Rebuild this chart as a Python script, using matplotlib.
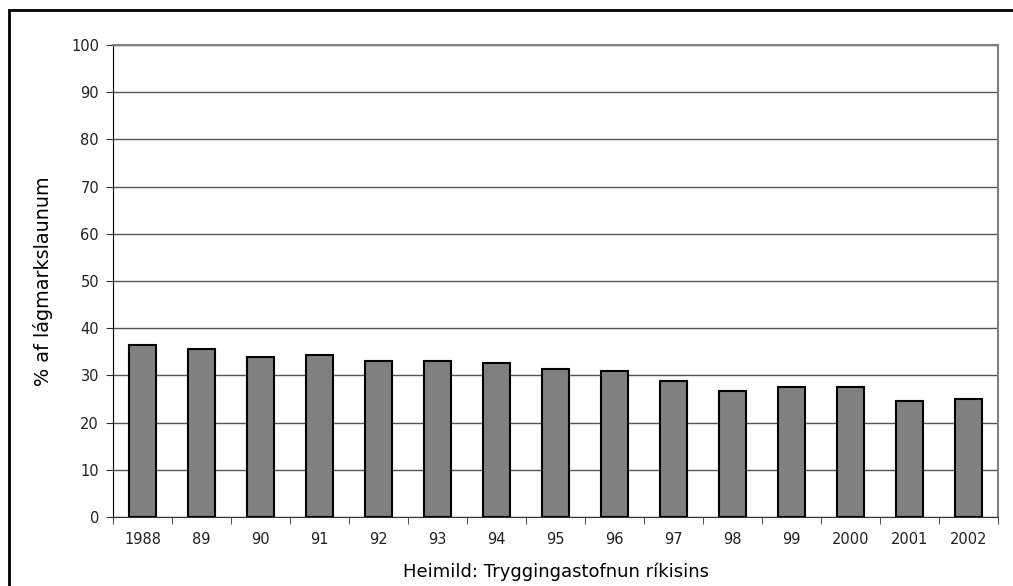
import matplotlib
matplotlib.use("Agg")
import matplotlib.pyplot as plt
from matplotlib.patches import Rectangle
import numpy as np

years = ["1988", "89", "90", "91", "92", "93", "94", "95", "96", "97", "98", "99", "2000", "2001", "2002"]
values = [36.4, 35.5, 33.9, 34.4, 33.0, 33.0, 32.6, 31.4, 30.9, 28.8, 26.7, 27.5, 27.5, 24.6, 25.0]
yticks = [0, 10, 20, 30, 40, 50, 60, 70, 80, 90, 100]

plt.rcParams['font.family'] = ['DejaVu Sans']

W, H = 1013, 586
fig = plt.figure(figsize=(W / 100, H / 100), dpi=100)
ax = fig.add_axes([113 / W, 1 - 517 / H, (998 - 113) / W, (517 - 45) / H])

x = np.arange(len(years))
ax.bar(x, values, width=0.46, color="#808080", edgecolor="black", linewidth=1.5, zorder=3)

ax.set_xlim(-0.5, len(years) - 0.5)
ax.set_ylim(0, 100)
ax.set_yticks(yticks)
ax.set_yticklabels([str(v) for v in yticks], fontsize=10.5, color="#222222")
ax.yaxis.grid(True, color="#555555", linewidth=1, zorder=0)

ax.set_xticks(x)
ax.set_xticklabels(years, fontsize=10.5, color="#222222")
ax.set_xticks(np.arange(-0.5, len(years), 1.0), minor=True)
ax.tick_params(axis="x", which="major", length=0, pad=11)
ax.tick_params(axis="x", which="minor", length=5, direction="out", color="#333333")
ax.tick_params(axis="y", length=5, direction="out", color="#333333", pad=5)

for side in ["top", "right"]:
    ax.spines[side].set_color("#808080")
    ax.spines[side].set_linewidth(1.5)
ax.spines["left"].set_color("black")
ax.spines["bottom"].set_color("#333333")

ax.set_ylabel("% af lágmarkslaunum", fontsize=13.8, labelpad=13)
ax.set_xlabel("Heimild: Tryggingastofnun ríkisins", fontsize=13, labelpad=11)

fig.patches.append(Rectangle((9 / W, -0.05), (W + 20) / W, 1 - 10 / H + 0.05,
                             transform=fig.transFigure, fill=False,
                             edgecolor="black", linewidth=2))

fig.savefig("out.png", dpi=100)
